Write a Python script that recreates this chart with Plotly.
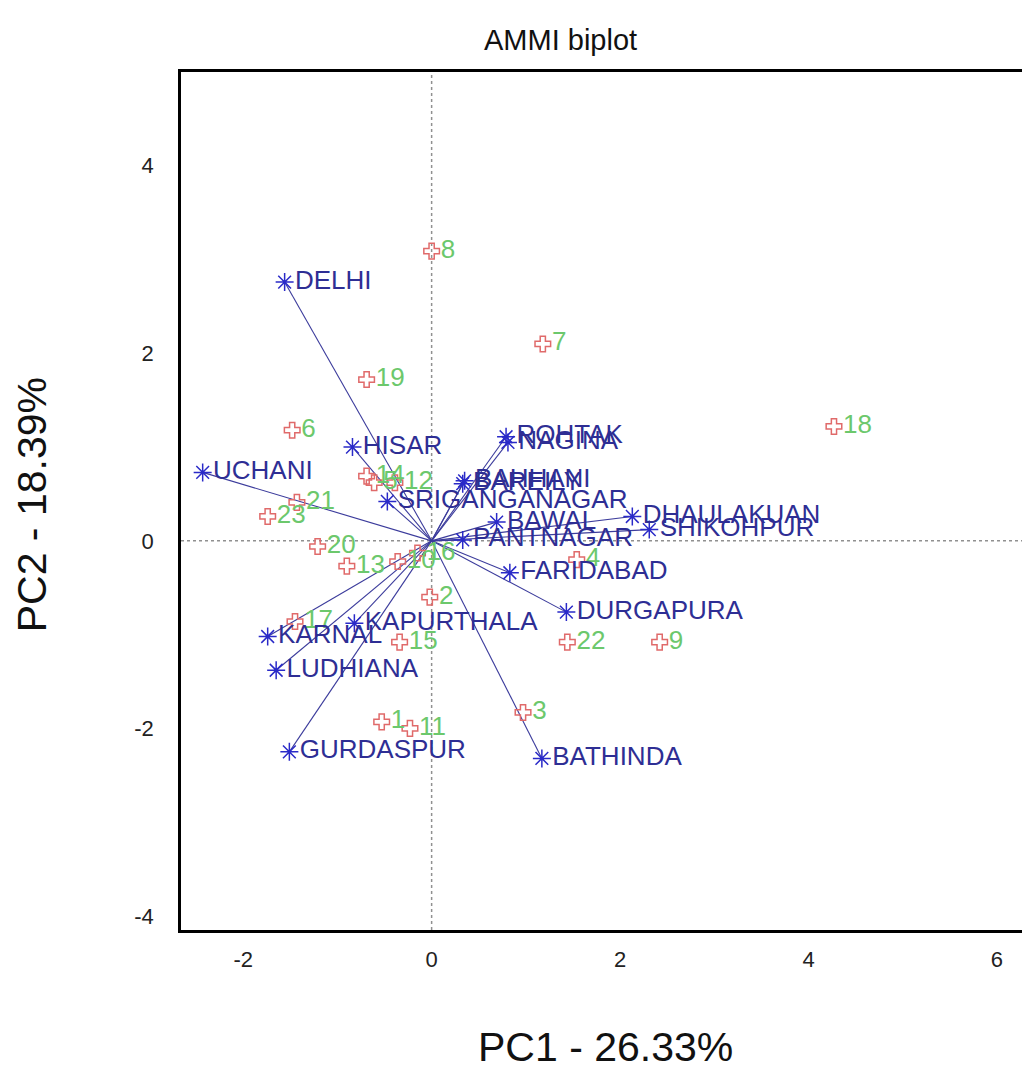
import plotly.graph_objects as go

# Genotype scores (PC1, PC2)
gen_labels = ["1", "2", "3", "4", "5", "6", "7", "8", "9", "10", "11", "12",
              "13", "14", "15", "16", "17", "18", "19", "20", "21", "22", "23"]
gen_pc1 = [-0.53, -0.02, 0.97, 1.54, -0.61, -1.48, 1.18, 0.00, 2.42, -0.36, -0.23, -0.39,
           -0.90, -0.69, -0.34, -0.15, -1.45, 4.27, -0.69, -1.21, -1.43, 1.44, -1.74]
gen_pc2 = [-1.93, -0.60, -1.83, -0.20, 0.62, 1.18, 2.10, 3.09, -1.08, -0.22, -2.00, 0.62,
           -0.27, 0.69, -1.08, -0.13, -0.86, 1.22, 1.72, -0.06, 0.41, -1.08, 0.26]

# Environment scores (PC1, PC2)
env_labels = ["DELHI", "HISAR", "UCHANI", "SRIGANGANAGAR", "ROHTAK", "NAGINA",
              "BAREILY", "BAHHANI", "BAWAL", "DHAULAKUAN", "SHIKOHPUR", "PANTNAGAR",
              "FARIDABAD", "DURGAPURA", "BATHINDA", "KAPURTHALA", "KARNAL",
              "LUDHIANA", "GURDASPUR"]
env_pc1 = [-1.56, -0.84, -2.43, -0.47, 0.79, 0.81, 0.33, 0.35, 0.69, 2.13, 2.31, 0.33,
           0.83, 1.43, 1.17, -0.82, -1.74, -1.65, -1.51]
env_pc2 = [2.76, 1.00, 0.73, 0.42, 1.11, 1.05, 0.61, 0.64, 0.20, 0.26, 0.12, 0.01,
           -0.34, -0.76, -2.32, -0.88, -1.02, -1.38, -2.25]

title_text = "AMMI biplot"
x_title = "PC1 - 26.33%"
y_title = "PC2 - 18.39%"
x_ticks = [-2, 0, 2, 4, 6]
x_ticktext = ["-2", "0", "2", "4", "6"]
y_ticks = [-4, -2, 0, 2, 4]
y_ticktext = ["-4", "-2", "0", "2", "4"]

FONT = "Liberation Sans, Arial, sans-serif"

fig = go.Figure()

# vectors from origin to environments
vx, vy = [], []
for ex, ey in zip(env_pc1, env_pc2):
    vx += [0, ex, None]
    vy += [0, ey, None]
fig.add_trace(go.Scatter(x=vx, y=vy, mode="lines",
                         line=dict(color="#3c3c9c", width=1.1),
                         hoverinfo="skip", showlegend=False))

# genotypes
fig.add_trace(go.Scatter(x=gen_pc1, y=gen_pc2, mode="markers+text",
                         text=gen_labels, textposition="middle right",
                         textfont=dict(family=FONT, size=26, color="#6cc86c"),
                         marker=dict(symbol="cross-open", size=13,
                                     color="#e06a6a", line=dict(width=1.5, color="#e06a6a")),
                         showlegend=False))

# environments
fig.add_trace(go.Scatter(x=env_pc1, y=env_pc2, mode="markers+text",
                         text=env_labels, textposition="middle right",
                         textfont=dict(family=FONT, size=26, color="#2e2e94"),
                         marker=dict(symbol="asterisk-open", size=15,
                                     color="#2a2ac8", line=dict(width=1.5, color="#2a2ac8")),
                         showlegend=False))

# dotted reference lines through origin
fig.add_shape(type="line", xref="x", yref="paper", x0=0, x1=0, y0=0, y1=1,
              line=dict(color="#909090", width=1.5, dash="dot"), layer="below")
fig.add_shape(type="line", xref="paper", yref="y", x0=0, x1=1, y0=0, y1=0,
              line=dict(color="#909090", width=1.5, dash="dot"), layer="below")

fig.update_layout(
    width=1022, height=1062,
    margin=dict(l=173, r=1, t=64, b=140),
    paper_bgcolor="white", plot_bgcolor="white",
    font=dict(family=FONT, color="#222222"),
    annotations=[
        dict(text=title_text, xref="paper", yref="paper", x=0.448, y=1.0, yshift=32,
             showarrow=False, font=dict(size=29, color="#111111"), xanchor="center", yanchor="middle"),
        dict(text=x_title, xref="paper", yref="paper", x=0.5, y=0, yshift=-117,
             showarrow=False, font=dict(size=41, color="#111111"), xanchor="center", yanchor="middle"),
        dict(text=y_title, xref="paper", yref="paper", x=0, xshift=-149, y=0.495,
             textangle=-90, showarrow=False, font=dict(size=41, color="#111111"),
             xanchor="center", yanchor="middle"),
    ],
)
fig.update_xaxes(range=[-2.66, 6.34], tickvals=x_ticks, ticktext=x_ticktext,
                 showgrid=False, zeroline=False,
                 showline=True, linecolor="black", linewidth=2.5, mirror=True,
                 ticks="", tickfont=dict(size=22, color="#222222"), ticklabelstandoff=8)
fig.update_yaxes(range=[-4.15, 5.0], tickvals=y_ticks, ticktext=y_ticktext,
                 showgrid=False, zeroline=False,
                 showline=True, linecolor="black", linewidth=2.5, mirror=False,
                 ticks="", tickfont=dict(size=22, color="#222222"), ticklabelstandoff=20)

fig.write_html("out.html")
